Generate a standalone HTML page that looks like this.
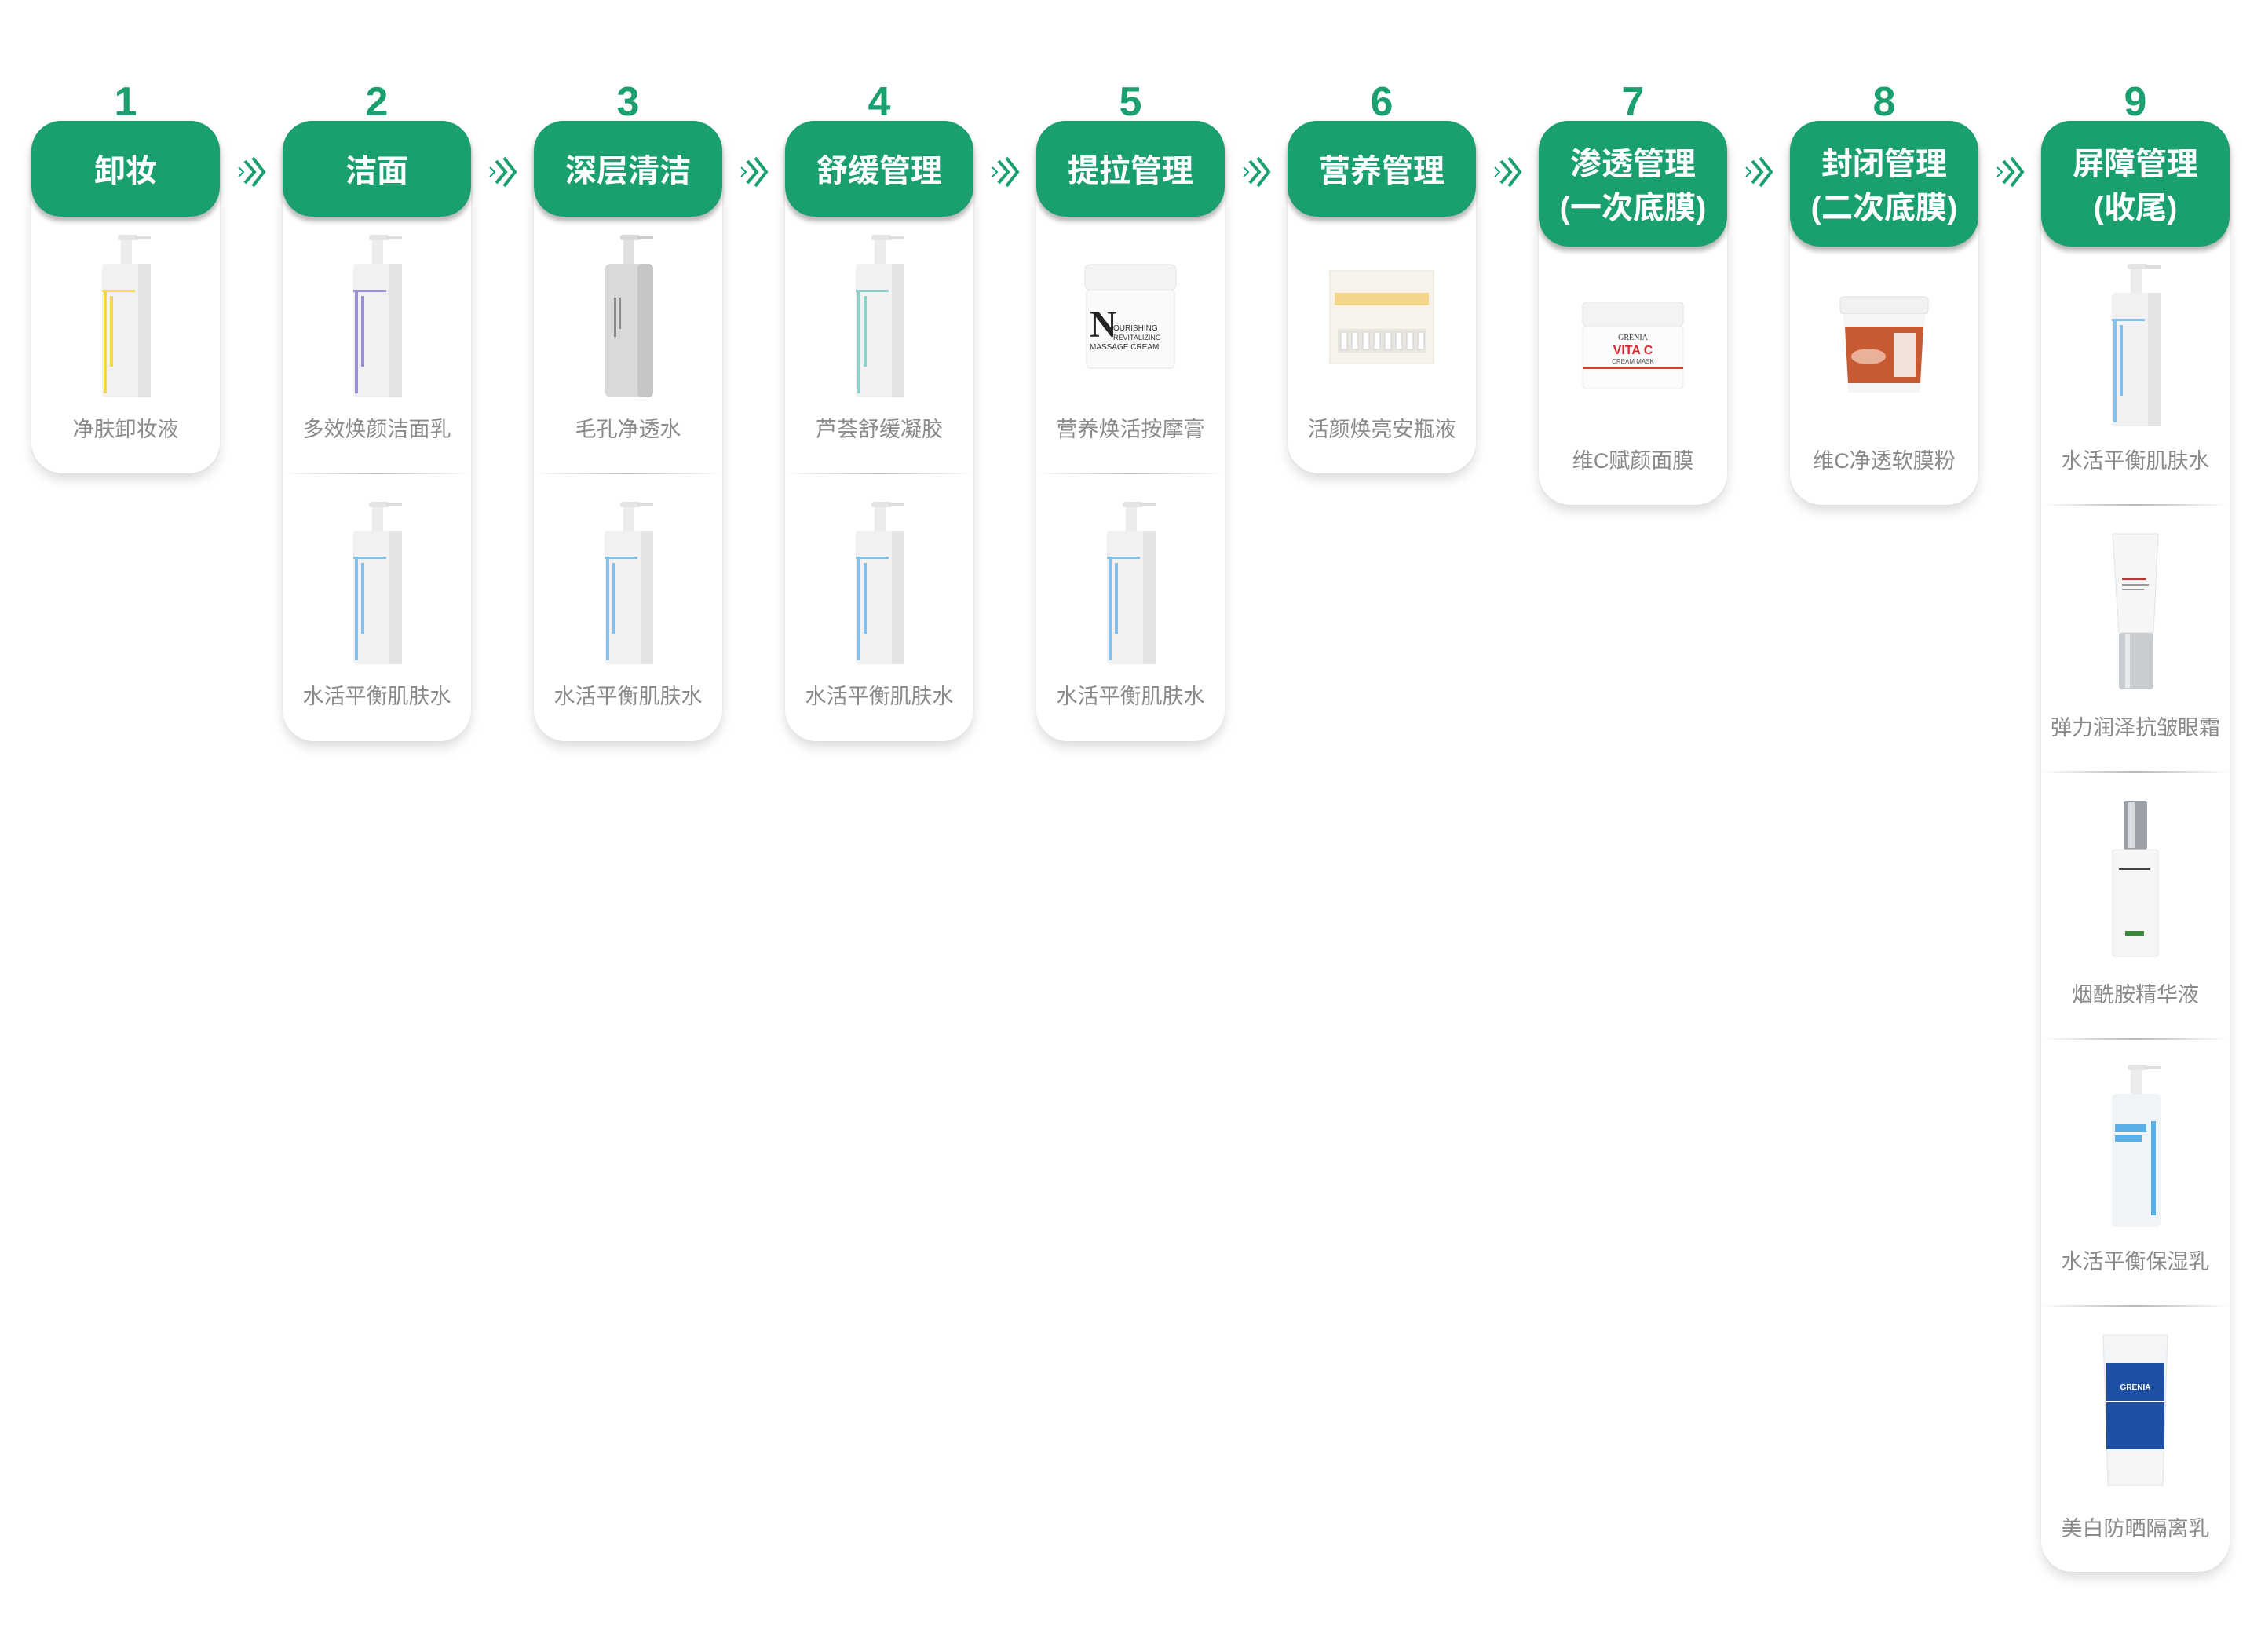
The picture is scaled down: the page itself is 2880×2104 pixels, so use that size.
<!DOCTYPE html>
<html><head><meta charset="utf-8">
<style>
html,body{margin:0;padding:0;background:#fff;}
body{width:2880px;height:2104px;position:relative;overflow:hidden;font-family:"Liberation Sans","Noto Sans CJK SC",sans-serif;}
.num{position:absolute;width:240px;text-align:center;top:100px;font-size:52px;font-weight:bold;color:#1a9f6e;line-height:60px;}
.card{position:absolute;width:240px;top:154px;background:#fff;border-radius:40px;box-shadow:0 8px 14px rgba(0,0,0,.13),0 0 3px rgba(0,0,0,.05);}
.hd{position:absolute;left:0;top:0;width:240px;box-sizing:border-box;padding-top:5px;background:#1a9f6e;border-radius:38px;box-shadow:0 6px 6px rgba(0,0,0,.28);color:#fff;font-weight:bold;font-size:40px;text-align:center;display:flex;flex-direction:column;justify-content:center;line-height:56px;}
.img{position:absolute;left:0;width:240px;display:flex;justify-content:center;align-items:center;height:220px;}
.lab{position:absolute;left:0;width:240px;text-align:center;font-size:27px;color:#8a8a8a;line-height:34px;white-space:nowrap;margin-top:3px;}
.div{position:absolute;left:0;width:240px;height:2px;background:linear-gradient(90deg,rgba(0,0,0,0),#b8b8b8 50%,rgba(0,0,0,0));}
.arr{position:absolute;top:197px;}
</style></head><body>

<svg class="arr" style="left:300px" width="40" height="44" viewBox="0 0 40 44"><path d="M4 16 L10 22 L4 28" stroke="#1a9f6e" stroke-width="2" fill="none"/><path d="M12 8 L24 22 L12 36" stroke="#1a9f6e" stroke-width="4" fill="none"/><path d="M22 4 L36 22 L22 40" stroke="#1a9f6e" stroke-width="4" fill="none"/></svg>
<svg class="arr" style="left:620px" width="40" height="44" viewBox="0 0 40 44"><path d="M4 16 L10 22 L4 28" stroke="#1a9f6e" stroke-width="2" fill="none"/><path d="M12 8 L24 22 L12 36" stroke="#1a9f6e" stroke-width="4" fill="none"/><path d="M22 4 L36 22 L22 40" stroke="#1a9f6e" stroke-width="4" fill="none"/></svg>
<svg class="arr" style="left:940px" width="40" height="44" viewBox="0 0 40 44"><path d="M4 16 L10 22 L4 28" stroke="#1a9f6e" stroke-width="2" fill="none"/><path d="M12 8 L24 22 L12 36" stroke="#1a9f6e" stroke-width="4" fill="none"/><path d="M22 4 L36 22 L22 40" stroke="#1a9f6e" stroke-width="4" fill="none"/></svg>
<svg class="arr" style="left:1260px" width="40" height="44" viewBox="0 0 40 44"><path d="M4 16 L10 22 L4 28" stroke="#1a9f6e" stroke-width="2" fill="none"/><path d="M12 8 L24 22 L12 36" stroke="#1a9f6e" stroke-width="4" fill="none"/><path d="M22 4 L36 22 L22 40" stroke="#1a9f6e" stroke-width="4" fill="none"/></svg>
<svg class="arr" style="left:1580px" width="40" height="44" viewBox="0 0 40 44"><path d="M4 16 L10 22 L4 28" stroke="#1a9f6e" stroke-width="2" fill="none"/><path d="M12 8 L24 22 L12 36" stroke="#1a9f6e" stroke-width="4" fill="none"/><path d="M22 4 L36 22 L22 40" stroke="#1a9f6e" stroke-width="4" fill="none"/></svg>
<svg class="arr" style="left:1900px" width="40" height="44" viewBox="0 0 40 44"><path d="M4 16 L10 22 L4 28" stroke="#1a9f6e" stroke-width="2" fill="none"/><path d="M12 8 L24 22 L12 36" stroke="#1a9f6e" stroke-width="4" fill="none"/><path d="M22 4 L36 22 L22 40" stroke="#1a9f6e" stroke-width="4" fill="none"/></svg>
<svg class="arr" style="left:2220px" width="40" height="44" viewBox="0 0 40 44"><path d="M4 16 L10 22 L4 28" stroke="#1a9f6e" stroke-width="2" fill="none"/><path d="M12 8 L24 22 L12 36" stroke="#1a9f6e" stroke-width="4" fill="none"/><path d="M22 4 L36 22 L22 40" stroke="#1a9f6e" stroke-width="4" fill="none"/></svg>
<svg class="arr" style="left:2540px" width="40" height="44" viewBox="0 0 40 44"><path d="M4 16 L10 22 L4 28" stroke="#1a9f6e" stroke-width="2" fill="none"/><path d="M12 8 L24 22 L12 36" stroke="#1a9f6e" stroke-width="4" fill="none"/><path d="M22 4 L36 22 L22 40" stroke="#1a9f6e" stroke-width="4" fill="none"/></svg>

<div class="num" style="left:40px">1</div>
<div class="num" style="left:360px">2</div>
<div class="num" style="left:680px">3</div>
<div class="num" style="left:1000px">4</div>
<div class="num" style="left:1320px">5</div>
<div class="num" style="left:1640px">6</div>
<div class="num" style="left:1960px">7</div>
<div class="num" style="left:2280px">8</div>
<div class="num" style="left:2600px">9</div>

<div class="card" style="left:40px;height:449px">
  <div class="hd" style="height:122px">卸妆</div>
  <div class="img" style="top:140px"><svg width="80" height="210"><rect x="30" y="0" width="26" height="7" rx="3" fill="#e4e4e4"/><path d="M52 4 h20" stroke="#ddd" stroke-width="4"/><rect x="34" y="7" width="14" height="30" fill="#ececec"/><rect x="10" y="37" width="62" height="170" rx="4" fill="#f1f1f1"/><rect x="56" y="37" width="16" height="170" fill="#e4e4e4"/><rect x="12" y="72" width="4" height="130" fill="#f2d84a"/><rect x="10" y="70" width="42" height="3" fill="#f2d84a"/><rect x="20" y="78" width="4" height="90" fill="#f2d84a"/></svg></div>
  <div class="lab" style="top:373px">净肤卸妆液</div>
</div>

<div class="card" style="left:360px;height:790px">
  <div class="hd" style="height:122px">洁面</div>
  <div class="img" style="top:140px"><svg width="80" height="210"><rect x="30" y="0" width="26" height="7" rx="3" fill="#e4e4e4"/><path d="M52 4 h20" stroke="#ddd" stroke-width="4"/><rect x="34" y="7" width="14" height="30" fill="#ececec"/><rect x="10" y="37" width="62" height="170" rx="4" fill="#f1f1f1"/><rect x="56" y="37" width="16" height="170" fill="#e4e4e4"/><rect x="12" y="72" width="4" height="130" fill="#9b8fd6"/><rect x="10" y="70" width="42" height="3" fill="#9b8fd6"/><rect x="20" y="78" width="4" height="90" fill="#9b8fd6"/></svg></div>
  <div class="lab" style="top:373px">多效焕颜洁面乳</div>
  <div class="div" style="top:448px"></div>
  <div class="img" style="top:480px"><svg width="80" height="210"><rect x="30" y="0" width="26" height="7" rx="3" fill="#e4e4e4"/><path d="M52 4 h20" stroke="#ddd" stroke-width="4"/><rect x="34" y="7" width="14" height="30" fill="#ececec"/><rect x="10" y="37" width="62" height="170" rx="4" fill="#f1f1f1"/><rect x="56" y="37" width="16" height="170" fill="#e4e4e4"/><rect x="12" y="72" width="4" height="130" fill="#7fc1ea"/><rect x="10" y="70" width="42" height="3" fill="#7fc1ea"/><rect x="20" y="78" width="4" height="90" fill="#7fc1ea"/></svg></div>
  <div class="lab" style="top:713px">水活平衡肌肤水</div>
</div>

<div class="card" style="left:680px;height:790px">
  <div class="hd" style="height:122px">深层清洁</div>
  <div class="img" style="top:140px"><svg width="80" height="210"><rect x="30" y="0" width="26" height="7" rx="3" fill="#d8d8d8"/><path d="M52 4 h20" stroke="#ccc" stroke-width="4"/><rect x="34" y="7" width="14" height="30" fill="#e0e0e0"/><rect x="10" y="37" width="62" height="170" rx="8" fill="#d9d9d9"/><rect x="52" y="37" width="20" height="170" rx="6" fill="#c6c6c6"/><rect x="22" y="80" width="3" height="50" fill="#888"/><rect x="28" y="80" width="3" height="40" fill="#888"/></svg></div>
  <div class="lab" style="top:373px">毛孔净透水</div>
  <div class="div" style="top:448px"></div>
  <div class="img" style="top:480px"><svg width="80" height="210"><rect x="30" y="0" width="26" height="7" rx="3" fill="#e4e4e4"/><path d="M52 4 h20" stroke="#ddd" stroke-width="4"/><rect x="34" y="7" width="14" height="30" fill="#ececec"/><rect x="10" y="37" width="62" height="170" rx="4" fill="#f1f1f1"/><rect x="56" y="37" width="16" height="170" fill="#e4e4e4"/><rect x="12" y="72" width="4" height="130" fill="#7fc1ea"/><rect x="10" y="70" width="42" height="3" fill="#7fc1ea"/><rect x="20" y="78" width="4" height="90" fill="#7fc1ea"/></svg></div>
  <div class="lab" style="top:713px">水活平衡肌肤水</div>
</div>

<div class="card" style="left:1000px;height:790px">
  <div class="hd" style="height:122px">舒缓管理</div>
  <div class="img" style="top:140px"><svg width="80" height="210"><rect x="30" y="0" width="26" height="7" rx="3" fill="#e4e4e4"/><path d="M52 4 h20" stroke="#ddd" stroke-width="4"/><rect x="34" y="7" width="14" height="30" fill="#ececec"/><rect x="10" y="37" width="62" height="170" rx="4" fill="#f1f1f1"/><rect x="56" y="37" width="16" height="170" fill="#e4e4e4"/><rect x="12" y="72" width="4" height="130" fill="#8fd0c8"/><rect x="10" y="70" width="42" height="3" fill="#8fd0c8"/><rect x="20" y="78" width="4" height="90" fill="#8fd0c8"/></svg></div>
  <div class="lab" style="top:373px">芦荟舒缓凝胶</div>
  <div class="div" style="top:448px"></div>
  <div class="img" style="top:480px"><svg width="80" height="210"><rect x="30" y="0" width="26" height="7" rx="3" fill="#e4e4e4"/><path d="M52 4 h20" stroke="#ddd" stroke-width="4"/><rect x="34" y="7" width="14" height="30" fill="#ececec"/><rect x="10" y="37" width="62" height="170" rx="4" fill="#f1f1f1"/><rect x="56" y="37" width="16" height="170" fill="#e4e4e4"/><rect x="12" y="72" width="4" height="130" fill="#7fc1ea"/><rect x="10" y="70" width="42" height="3" fill="#7fc1ea"/><rect x="20" y="78" width="4" height="90" fill="#7fc1ea"/></svg></div>
  <div class="lab" style="top:713px">水活平衡肌肤水</div>
</div>

<div class="card" style="left:1320px;height:790px">
  <div class="hd" style="height:122px">提拉管理</div>
  <div class="img" style="top:140px"><svg width="120" height="150"><rect x="2" y="8" width="116" height="32" rx="6" fill="#f4f4f4" stroke="#e2e2e2"/><rect x="4" y="40" width="112" height="100" rx="4" fill="#fafafa" stroke="#e6e6e6"/><text x="8" y="100" font-family="Liberation Serif,serif" font-size="48" font-weight="bold" fill="#222">N</text><text x="38" y="92" font-family="Liberation Sans,sans-serif" font-size="10" fill="#333">OURISHING</text><text x="38" y="104" font-family="Liberation Sans,sans-serif" font-size="9" fill="#333">REVITALIZING</text><text x="8" y="116" font-family="Liberation Sans,sans-serif" font-size="10" fill="#333">MASSAGE CREAM</text></svg></div>
  <div class="lab" style="top:373px">营养焕活按摩膏</div>
  <div class="div" style="top:448px"></div>
  <div class="img" style="top:480px"><svg width="80" height="210"><rect x="30" y="0" width="26" height="7" rx="3" fill="#e4e4e4"/><path d="M52 4 h20" stroke="#ddd" stroke-width="4"/><rect x="34" y="7" width="14" height="30" fill="#ececec"/><rect x="10" y="37" width="62" height="170" rx="4" fill="#f1f1f1"/><rect x="56" y="37" width="16" height="170" fill="#e4e4e4"/><rect x="12" y="72" width="4" height="130" fill="#7fc1ea"/><rect x="10" y="70" width="42" height="3" fill="#7fc1ea"/><rect x="20" y="78" width="4" height="90" fill="#7fc1ea"/></svg></div>
  <div class="lab" style="top:713px">水活平衡肌肤水</div>
</div>

<div class="card" style="left:1640px;height:449px">
  <div class="hd" style="height:122px">营养管理</div>
  <div class="img" style="top:140px"><svg width="140" height="130"><rect x="4" y="6" width="132" height="118" fill="#f7f3ea" stroke="#e6e0d0"/><rect x="10" y="34" width="120" height="16" fill="#f3d58a"/><rect x="14" y="80" width="112" height="30" fill="#e9e6e0"/><g fill="#fff" stroke="#cfcfcf"><rect x="18" y="84" width="8" height="22"/><rect x="32" y="84" width="8" height="22"/><rect x="46" y="84" width="8" height="22"/><rect x="60" y="84" width="8" height="22"/><rect x="74" y="84" width="8" height="22"/><rect x="88" y="84" width="8" height="22"/><rect x="102" y="84" width="8" height="22"/><rect x="116" y="84" width="8" height="22"/></g></svg></div>
  <div class="lab" style="top:373px">活颜焕亮安瓶液</div>
</div>

<div class="card" style="left:1960px;height:489px">
  <div class="hd" style="height:160px"><div>渗透管理</div><div>(一次底膜)</div></div>
  <div class="img" style="top:177px"><svg width="140" height="120"><rect x="6" y="4" width="128" height="30" rx="4" fill="#f3f3f3" stroke="#e3e3e3"/><rect x="6" y="34" width="128" height="80" rx="4" fill="#fbfbfb" stroke="#e8e8e8"/><text x="70" y="52" text-anchor="middle" font-family="Liberation Serif,serif" font-size="10" fill="#333">GRENIA</text><text x="70" y="70" text-anchor="middle" font-family="Liberation Sans,sans-serif" font-weight="bold" font-size="16" fill="#d9262c">VITA C</text><text x="70" y="82" text-anchor="middle" font-family="Liberation Sans,sans-serif" font-size="8" fill="#555">CREAM MASK</text><rect x="6" y="86" width="128" height="3" fill="#e23a3a"/></svg></div>
  <div class="lab" style="top:413px">维C赋颜面膜</div>
</div>

<div class="card" style="left:2280px;height:489px">
  <div class="hd" style="height:160px"><div>封闭管理</div><div>(二次底膜)</div></div>
  <div class="img" style="top:177px"><svg width="120" height="130"><rect x="4" y="2" width="112" height="22" rx="4" fill="#f1f1f1" stroke="#ddd"/><path d="M8 24 L112 24 L106 124 L14 124 Z" fill="#f5f5f5"/><path d="M10 40 L110 40 L106 112 L14 112 Z" fill="#c85a32"/><ellipse cx="40" cy="78" rx="22" ry="10" fill="#e9b19a"/><rect x="72" y="48" width="28" height="56" fill="#f0e2d8"/></svg></div>
  <div class="lab" style="top:413px">维C净透软膜粉</div>
</div>

<div class="card" style="left:2600px;height:1848px">
  <div class="hd" style="height:160px"><div>屏障管理</div><div>(收尾)</div></div>
  <div class="img" style="top:177px"><svg width="80" height="210"><rect x="30" y="0" width="26" height="7" rx="3" fill="#e4e4e4"/><path d="M52 4 h20" stroke="#ddd" stroke-width="4"/><rect x="34" y="7" width="14" height="30" fill="#ececec"/><rect x="10" y="37" width="62" height="170" rx="4" fill="#f1f1f1"/><rect x="56" y="37" width="16" height="170" fill="#e4e4e4"/><rect x="12" y="72" width="4" height="130" fill="#7fc1ea"/><rect x="10" y="70" width="42" height="3" fill="#7fc1ea"/><rect x="20" y="78" width="4" height="90" fill="#7fc1ea"/></svg></div>
  <div class="lab" style="top:413px">水活平衡肌肤水</div>
  <div class="div" style="top:488px"></div>
  <div class="img" style="top:517px"><svg width="70" height="210"><path d="M6 4 L64 4 L58 130 L14 130 Z" fill="#f6f6f6" stroke="#e2e2e2"/><rect x="18" y="60" width="30" height="3" fill="#b33"/><rect x="18" y="68" width="34" height="2" fill="#999"/><rect x="18" y="74" width="28" height="2" fill="#999"/><rect x="14" y="130" width="44" height="72" rx="4" fill="#c9cdd2"/><rect x="22" y="132" width="6" height="68" fill="#e8eaec"/></svg></div>
  <div class="lab" style="top:753px">弹力润泽抗皱眼霜</div>
  <div class="div" style="top:828px"></div>
  <div class="img" style="top:857px"><svg width="70" height="210"><rect x="20" y="4" width="30" height="62" rx="3" fill="#9aa0a6"/><rect x="26" y="6" width="8" height="58" fill="#d9dde1"/><rect x="6" y="66" width="58" height="136" rx="3" fill="#f6f6f6" stroke="#e4e4e4"/><rect x="14" y="90" width="40" height="2" fill="#444"/><rect x="22" y="170" width="24" height="6" fill="#3a8a3a"/></svg></div>
  <div class="lab" style="top:1093px">烟酰胺精华液</div>
  <div class="div" style="top:1168px"></div>
  <div class="img" style="top:1197px"><svg width="80" height="210"><rect x="30" y="0" width="26" height="7" rx="3" fill="#e4e4e4"/><path d="M52 4 h20" stroke="#ddd" stroke-width="4"/><rect x="34" y="7" width="14" height="30" fill="#ececec"/><rect x="10" y="37" width="62" height="170" rx="6" fill="#f1f4f6"/><rect x="14" y="76" width="40" height="10" fill="#5aaee6"/><rect x="14" y="90" width="34" height="8" fill="#5aaee6"/><rect x="60" y="72" width="6" height="120" fill="#5aaee6"/></svg></div>
  <div class="lab" style="top:1433px">水活平衡保湿乳</div>
  <div class="div" style="top:1508px"></div>
  <div class="img" style="top:1537px"><svg width="90" height="210"><path d="M4 4 L86 4 L80 196 L10 196 Z" fill="#f3f5f7" stroke="#e0e4e8"/><rect x="8" y="40" width="74" height="110" fill="#1f4fa3"/><rect x="8" y="88" width="74" height="2" fill="#fff"/><text x="45" y="74" text-anchor="middle" font-family="Liberation Sans,sans-serif" font-weight="bold" font-size="10" fill="#fff">GRENIA</text></svg></div>
  <div class="lab" style="top:1773px">美白防晒隔离乳</div>
</div>

</body></html>
